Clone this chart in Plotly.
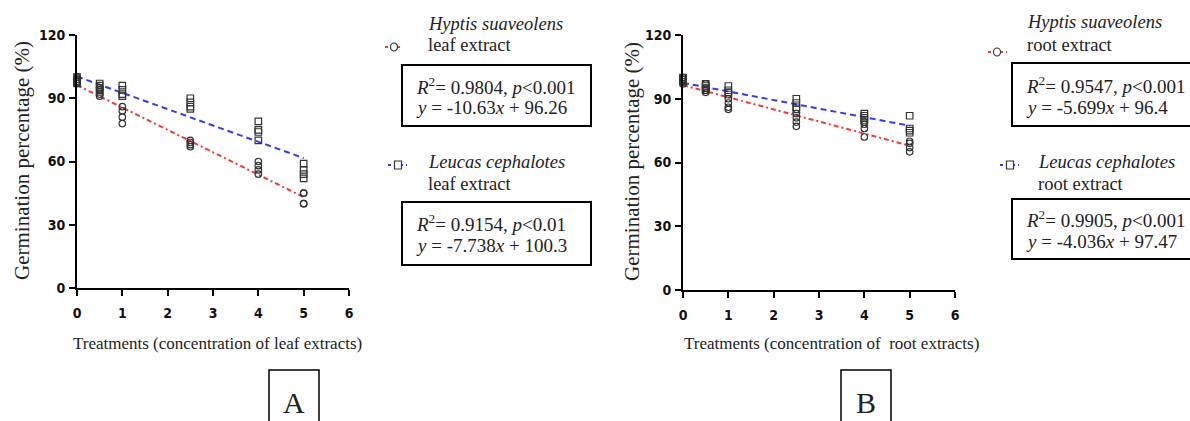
import numpy as np
import plotly.graph_objects as go

# ---------------- data ----------------
conc = [0, 0.5, 1, 2.5, 4, 5]

# panel A (leaf extracts), four replicates per concentration
hyptis_leaf = [[100, 99, 98, 97], [95, 94, 92, 91], [86, 84, 81, 78],
               [70, 69, 68, 67], [60, 58, 56, 54], [45, 45, 40, 40]]
leucas_leaf = [[100, 99, 98, 97], [97, 96, 94, 93], [96, 94, 92, 91],
               [90, 88, 86, 85], [79, 75, 74, 70], [59, 56, 54, 52]]

# panel B (root extracts)
hyptis_root = [[100, 99, 98, 97], [97, 95, 94, 93], [90, 88, 86, 85],
               [83, 81, 79, 77], [79, 78, 76, 72], [70, 69, 67, 65]]
leucas_root = [[100, 99, 99, 98], [97, 96, 95, 94], [96, 94, 93, 92],
               [90, 88, 86, 85], [83, 82, 81, 80], [82, 76, 75, 74]]

# regression equations  y = slope * x + intercept
fit_slope = {"hl": -10.63, "ll": -7.738, "hr": -5.699, "lr": -4.036}
fit_inter = {"hl": 96.26, "ll": 100.3, "hr": 96.4, "lr": 97.47}
fit_r2 = {"hl": "0.9804", "ll": "0.9154", "hr": "0.9547", "lr": "0.9905"}
fit_p = {"hl": "0.001", "ll": "0.01", "hr": "0.001", "lr": "0.001"}
fit_eq = {"hl": "-10.63", "ll": "-7.738", "hr": "-5.699", "lr": "-4.036"}
fit_b = {"hl": "96.26", "ll": "100.3", "hr": "96.4", "lr": "97.47"}

x_ticks = [0, 1, 2, 3, 4, 5, 6]
y_ticks = [0, 30, 60, 90, 120]

# ---------------- layout helpers ----------------
W, H = 1190, 421
def px(x):
    return x / W
def py(y):
    return 1 - y / H

SERIF = "Liberation Serif, Times New Roman, serif"
TICKF = "DejaVu Sans Condensed, Liberation Sans Narrow, Arial Narrow, sans-serif"
TXT = "#222222"
RED = "#f03a3a"
BLUE = "#3a3af0"

fig = go.Figure()

def flatten(groups):
    xs, ys = [], []
    for c, g in zip(conc, groups):
        for v in g:
            xs.append(c)
            ys.append(v)
    return xs, ys

def add_panel(hy, le, khy, kle, xa, ya):
    xfit = np.array([conc[0], conc[-1]])
    fig.add_trace(go.Scatter(x=xfit, y=fit_slope[kle] * xfit + fit_inter[kle], mode="lines",
                             line=dict(color=BLUE, width=2, dash="6px,4px"),
                             xaxis=xa, yaxis=ya, showlegend=False, hoverinfo="skip"))
    fig.add_trace(go.Scatter(x=xfit, y=fit_slope[khy] * xfit + fit_inter[khy], mode="lines",
                             line=dict(color=RED, width=2, dash="5px,3px,2px,3px"),
                             xaxis=xa, yaxis=ya, showlegend=False, hoverinfo="skip"))
    xs, ys = flatten(hy)
    fig.add_trace(go.Scatter(x=xs, y=ys, mode="markers", cliponaxis=False,
                             marker=dict(symbol="circle-open", size=6.5, color="#333",
                                         line=dict(width=1.2, color="#333")),
                             xaxis=xa, yaxis=ya, showlegend=False))
    xs, ys = flatten(le)
    fig.add_trace(go.Scatter(x=xs, y=ys, mode="markers", cliponaxis=False,
                             marker=dict(symbol="square-open", size=6.5, color="#333",
                                         line=dict(width=1.2, color="#333")),
                             xaxis=xa, yaxis=ya, showlegend=False))

add_panel(hyptis_leaf, leucas_leaf, "hl", "ll", "x", "y")
add_panel(hyptis_root, leucas_root, "hr", "lr", "x2", "y2")

axis_common = dict(showline=True, linecolor="black", linewidth=2, ticks="outside",
                   ticklen=6, tickwidth=2, tickcolor="black", showgrid=False, zeroline=False,
                   automargin=False,
                   tickfont=dict(family=TICKF, size=14, color="#111", weight="bold"))

fig.update_layout(
    template="none",
    width=W, height=H, margin=dict(l=0, r=0, t=0, b=0, autoexpand=False),
    paper_bgcolor="white", plot_bgcolor="white", showlegend=False,
    xaxis=dict(domain=[px(77), px(349)], range=[0, 6], tickvals=x_ticks,
               ticklabelstandoff=5, anchor="y", **axis_common),
    yaxis=dict(domain=[py(288), py(35)], range=[0, 120], tickvals=y_ticks,
               ticklabelstandoff=1, anchor="x", **axis_common),
    xaxis2=dict(domain=[px(683), px(955)], range=[0, 6], tickvals=x_ticks,
                ticklabelstandoff=5, anchor="y2", **axis_common),
    yaxis2=dict(domain=[py(290), py(35)], range=[0, 120], tickvals=y_ticks,
                ticklabelstandoff=1, anchor="x2", **axis_common),
)

ann = []
shapes = []

def text(x, y, s, size=19, xanchor="left", angle=0):
    ann.append(dict(x=px(x), y=py(y), xref="paper", yref="paper", text=s, showarrow=False,
                    xanchor=xanchor, yanchor="middle", textangle=angle,
                    align=xanchor if xanchor != "center" else "center",
                    borderpad=0,
                    font=dict(family=SERIF, size=size, color=TXT)))

def box(x0, y0, x1, y1, w=2):
    shapes.append(dict(type="rect", xref="paper", yref="paper", x0=px(x0), x1=px(x1),
                       y0=py(y1), y1=py(y0), line=dict(color="black", width=w)))

def key(x0, x1, y, color, dash, sym, xm):
    shapes.append(dict(type="line", xref="paper", yref="paper", x0=px(x0), x1=px(x1),
                       y0=py(y), y1=py(y), line=dict(color=color, width=2, dash=dash)))
    shapes.append(dict(type=sym, xref="paper", yref="paper", x0=px(xm - 3.5), x1=px(xm + 3.5),
                       y0=py(y + 4), y1=py(y - 4), fillcolor="white",
                       line=dict(color="#333", width=1.2)))

# axis titles
text(22, 161, "Germination percentage (%)", size=21, xanchor="center", angle=-90)
text(632, 162, "Germination percentage (%)", size=21, xanchor="center", angle=-90)
text(72, 343, "Treatments (concentration of leaf extracts)", size=17)
text(683, 343, "Treatments (concentration of&nbsp; root extracts)", size=17)

# panel labels
box(269, 370, 319, 440, w=1.5)
text(294, 402, "A", size=30, xanchor="center")
box(841, 370, 891, 440, w=1.5)
text(866, 402, "B", size=30, xanchor="center")

def stats(k):
    l1 = "<i>R</i><sup>2</sup>= %s, <i>p</i>&lt;%s" % (fit_r2[k], fit_p[k])
    l2 = "<i>y</i> = %s<i>x</i> + %s" % (fit_eq[k], fit_b[k])
    return l1, l2

# panel A legend
key(385, 403, 47, RED, "3px,3px", "circle", 394)
text(427, 24, "<i>Hyptis suaveolens</i>", size=18.5)
text(427, 45, "leaf extract", size=18.5)
box(402, 65, 591, 126)
l1, l2 = stats("hl")
text(415, 86, l1)
text(415, 108, l2)

key(388, 407, 165, BLUE, "3px,3px", "rect", 398)
text(427, 162, "<i>Leucas cephalotes</i>", size=18.5)
text(427, 184, "leaf extract", size=18.5)
box(402, 202, 591, 265)
l1, l2 = stats("ll")
text(415, 223, l1)
text(415, 246, l2)

# panel B legend
key(988, 1007, 52, RED, "3px,3px", "circle", 997)
text(1026, 22, "<i>Hyptis suaveolens</i>", size=18.5)
text(1026, 45, "root extract", size=18.5)
box(1012, 63, 1195, 126)
l1, l2 = stats("hr")
text(1025, 85, l1)
text(1025, 108, l2)

key(1000, 1019, 165, BLUE, "3px,3px", "rect", 1010)
text(1037, 162, "<i>Leucas cephalotes</i>", size=18.5)
text(1037, 184, "root extract", size=18.5)
box(1012, 199, 1195, 259)
l1, l2 = stats("lr")
text(1025, 219, l1)
text(1025, 241, l2)

fig.update_layout(annotations=ann, shapes=shapes)
fig.write_html("out.html", config={"displayModeBar": False},
               post_script="document.body.style.margin='0px';document.body.style.overflow='hidden';")
